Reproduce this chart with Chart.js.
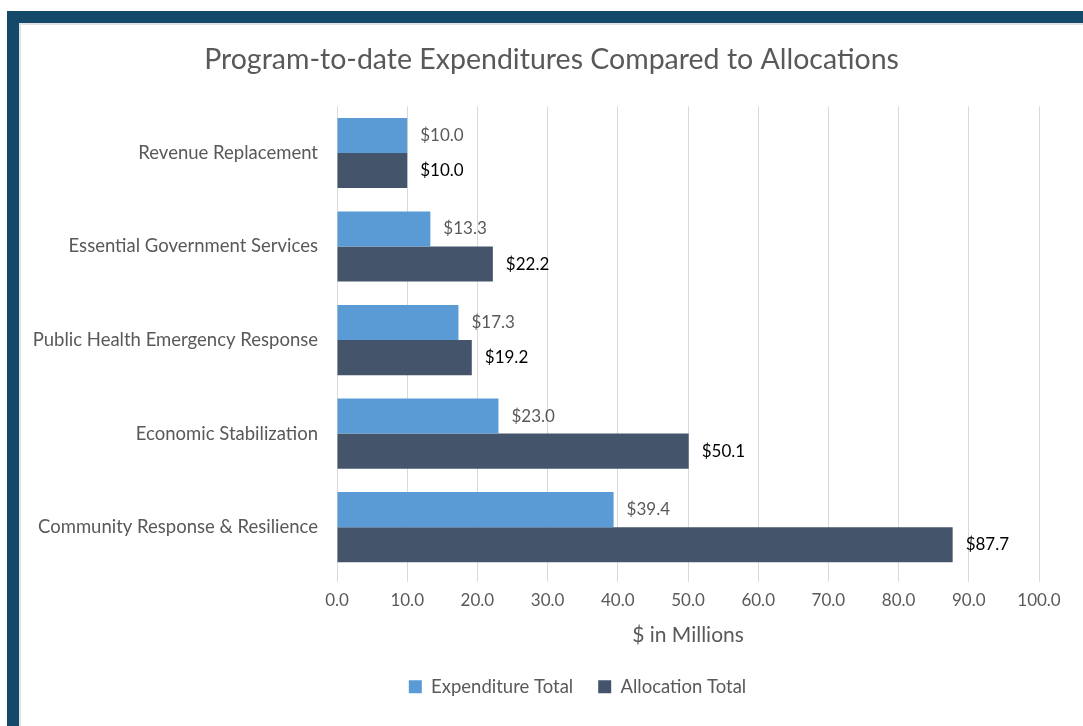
<!DOCTYPE html>
<html>
<head>
<meta charset="utf-8">
<script src="https://cdn.jsdelivr.net/npm/chart.js@4/dist/chart.umd.min.js"></script>
<style>
  body { margin: 0; background: #fff; }
  .frame {
    position: absolute;
    left: 7px;
    top: 11px;
    width: 1090px;
    height: 713px;
    border-top: 12px solid #15496a;
    border-left: 12px solid #15496a;
    border-bottom: 12px solid #15496a;
    background: #fff;
  }
  .inner {
    position: absolute;
    left: 0;
    top: 0;
    right: 0;
    bottom: 0;
    border-top: 2px solid #dfe3e7;
    border-left: 2px solid #dfe3e7;
    border-bottom: 2px solid #dfe3e7;
  }
  .chart-box {
    position: absolute;
    left: 20px;
    top: 23px;
    width: 1063px;
    height: 701px;
  }
</style>
</head>
<body>
<div class="frame"><div class="inner"></div></div>
<div class="chart-box"><canvas id="myChart"></canvas></div>
<script>
const categories = [
  "Revenue Replacement",
  "Essential Government Services",
  "Public Health Emergency Response",
  "Economic Stabilization",
  "Community Response & Resilience"
];
const expenditureTotal = [10.0, 13.3, 17.3, 23.0, 39.4];
const allocationTotal = [10.0, 22.2, 19.2, 50.1, 87.7];

const fontName = "Lato, 'Open Sans', sans-serif";

// write "$xx.x" to the right of every bar
const barLabels = {
  id: "barLabels",
  afterDatasetsDraw(chart) {
    let ctx = chart.ctx;
    ctx.save();
    ctx.font = "17px " + fontName;
    ctx.textBaseline = "middle";
    ctx.textAlign = "left";
    chart.data.datasets.forEach((ds, i) => {
      let meta = chart.getDatasetMeta(i);
      ctx.fillStyle = ds.labelColor;
      meta.data.forEach((bar, j) => {
        ctx.fillText("$" + ds.data[j].toFixed(1), bar.x + 13, bar.y);
      });
    });
    ctx.restore();
  }
};

// the legend sits a bit right of the middle, like in the original
const legendShift = {
  id: "legendShift",
  afterLayout(chart) {
    chart.legend.left += 26;
    chart.legend.right += 26;
  }
};

let ctx = document.getElementById("myChart").getContext("2d");
let chart = new Chart(ctx, {
  type: "bar",
  data: {
    labels: categories,
    datasets: [
      {
        label: "Expenditure Total",
        data: expenditureTotal,
        backgroundColor: "#5b9bd5",
        labelColor: "#595959"
      },
      {
        label: "Allocation Total",
        data: allocationTotal,
        backgroundColor: "#44546a",
        labelColor: "#000000"
      }
    ]
  },
  options: {
    indexAxis: "y",
    responsive: true,
    maintainAspectRatio: false,
    animation: false,
    datasets: {
      bar: { categoryPercentage: 0.75, barPercentage: 1.0 }
    },
    layout: { padding: { top: 0, right: 0, bottom: 18, left: 0 } },
    plugins: {
      title: {
        display: true,
        text: "Program-to-date Expenditures Compared to Allocations",
        color: "#595959",
        font: { family: fontName, size: 28.5, weight: "normal" },
        padding: { top: 20, bottom: 29 }
      },
      legend: {
        position: "bottom",
        labels: {
          color: "#595959",
          font: { family: fontName, size: 18.5 },
          boxWidth: 13,
          boxHeight: 13,
          padding: 25
        }
      },
      tooltip: { enabled: false }
    },
    scales: {
      x: {
        min: 0,
        max: 100,
        ticks: {
          stepSize: 10,
          color: "#595959",
          font: { family: fontName, size: 17 },
          padding: 8,
          callback: v => v.toFixed(1)
        },
        grid: { color: "#d9d9d9", lineWidth: 1, tickLength: 8 },
        border: { display: false },
        title: {
          display: true,
          text: "$ in Millions",
          color: "#595959",
          font: { family: fontName, size: 21 },
          padding: { top: 4, bottom: 5 }
        },
        afterFit(axis) {
          axis.paddingRight = 44;
        }
      },
      y: {
        ticks: {
          color: "#595959",
          font: { family: fontName, size: 18.5 },
          padding: 11
        },
        grid: { display: false },
        border: { display: false },
        afterFit(axis) {
          axis.width = 317;
        }
      }
    }
  },
  plugins: [barLabels, legendShift]
});
</script>
</body>
</html>
